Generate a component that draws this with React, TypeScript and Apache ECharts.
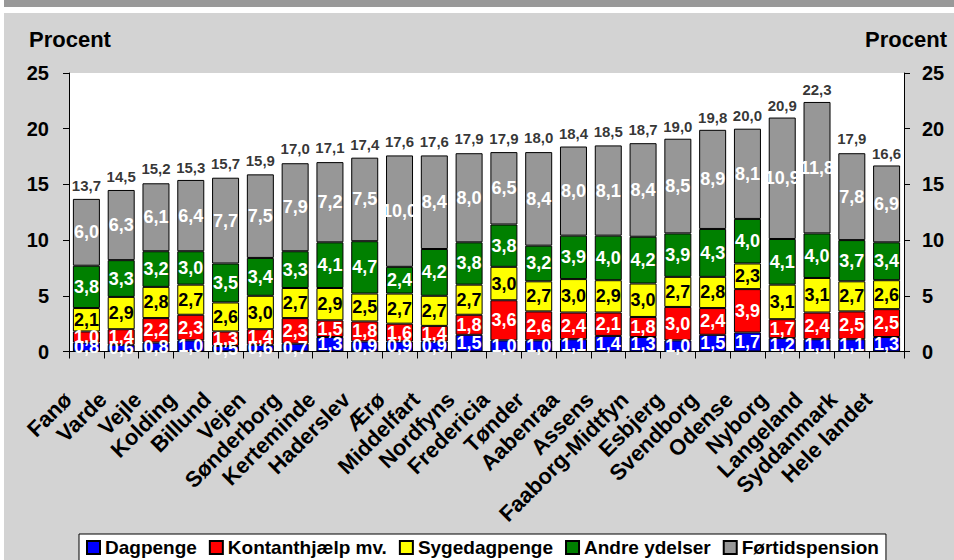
import React, { useEffect, useRef } from "react";
import * as echarts from "echarts";

const categories = [
  "Fanø", "Varde", "Vejle", "Kolding", "Billund", "Vejen", "Sønderborg", "Kerteminde",
  "Haderslev", "Ærø", "Middelfart", "Nordfyns", "Fredericia", "Tønder", "Aabenraa", "Assens",
  "Faaborg-Midtfyn", "Esbjerg", "Svendborg", "Odense", "Nyborg", "Langeland", "Syddanmark", "Hele landet",
];
const dagpenge = [0.8, 0.6, 0.8, 1.0, 0.5, 0.6, 0.7, 1.3, 0.9, 0.9, 0.9, 1.5, 1.0, 1.0, 1.1, 1.4, 1.3, 1.0, 1.5, 1.7, 1.2, 1.1, 1.1, 1.3];
const kontanthjaelp = [1.0, 1.4, 2.2, 2.3, 1.3, 1.4, 2.3, 1.5, 1.8, 1.6, 1.4, 1.8, 3.6, 2.6, 2.4, 2.1, 1.8, 3.0, 2.4, 3.9, 1.7, 2.4, 2.5, 2.5];
const sygedagpenge = [2.1, 2.9, 2.8, 2.7, 2.6, 3.0, 2.7, 2.9, 2.5, 2.7, 2.7, 2.7, 3.0, 2.7, 3.0, 2.9, 3.0, 2.7, 2.8, 2.3, 3.1, 3.1, 2.7, 2.6];
const andreYdelser = [3.8, 3.3, 3.2, 3.0, 3.5, 3.4, 3.3, 4.1, 4.7, 2.4, 4.2, 3.8, 3.8, 3.2, 3.9, 4.0, 4.2, 3.9, 4.3, 4.0, 4.1, 4.0, 3.7, 3.4];
const foertidspension = [6.0, 6.3, 6.1, 6.4, 7.7, 7.5, 7.9, 7.2, 7.5, 10.0, 8.4, 8.0, 6.5, 8.4, 8.0, 8.1, 8.4, 8.5, 8.9, 8.1, 10.9, 11.8, 7.8, 6.9];
const totals = [13.7, 14.5, 15.2, 15.3, 15.7, 15.9, 17.0, 17.1, 17.4, 17.6, 17.6, 17.9, 17.9, 18.0, 18.4, 18.5, 18.7, 19.0, 19.8, 20.0, 20.9, 22.3, 17.9, 16.6];
const seriesNames = ["Dagpenge", "Kontanthjælp mv.", "Sygedagpenge", "Andre ydelser", "Førtidspension"];
const seriesColors = ["#0000FF", "#FF0000", "#FFFF00", "#008000", "#979797"];
const labelColors = ["#FFFFFF", "#FFFFFF", "#000000", "#FFFFFF", "#FFFFFF"];
const axisTitle = "Procent";

const FONT = "Arial, 'Liberation Sans', sans-serif";
const fmt = (v: number) => v.toFixed(1).replace(".", ",");

export default function App() {
  const ref = useRef<HTMLDivElement>(null);
  useEffect(() => {
    if (!ref.current) return;
    const chart = echarts.init(ref.current, undefined, { renderer: "svg" });
    const values = [dagpenge, kontanthjaelp, sygedagpenge, andreYdelser, foertidspension];
    const barSeries = values.map((data, i) => ({
      name: seriesNames[i],
      type: "bar",
      stack: "total",
      data,
      barWidth: 27,
      yAxisIndex: 0,
      itemStyle: { color: seriesColors[i], borderColor: "#000", borderWidth: 1 },
      label: {
        show: true,
        position: "inside",
        formatter: (p: any) => fmt(p.value),
        color: labelColors[i],
        fontFamily: FONT,
        fontWeight: "bold",
        fontSize: 18,
        textBorderWidth: 0,
      },
    }));
    const yAxisCommon = {
      type: "value",
      min: 0,
      max: 25,
      interval: 5,
      splitLine: { show: false },
      axisLine: { show: true, lineStyle: { color: "#000", width: 1 } },
      axisTick: { show: true, length: 6, lineStyle: { color: "#000" } },
    };
    chart.setOption({
      animation: false,
      backgroundColor: "#d3d3d3",
      grid: {
        left: 69,
        right: 50,
        top: 73,
        height: 278.5,
        show: true,
        backgroundColor: "#ffffff",
        borderWidth: 0,
      },
      legend: {
        data: seriesNames,
        left: 79,
        top: 534,
        padding: [4, 7, 8, 7],
        backgroundColor: "#ffffff",
        borderColor: "#000",
        borderWidth: 1,
        itemGap: 12,
        itemWidth: 13,
        itemHeight: 13,
        icon: "rect",
        textStyle: { fontFamily: FONT, fontWeight: "bold", fontSize: 19, color: "#000" },
      },
      xAxis: {
        type: "category",
        data: categories,
        boundaryGap: true,
        axisLine: { show: true, lineStyle: { color: "#000" } },
        axisTick: { show: true, length: 7, alignWithLabel: false, lineStyle: { color: "#000" } },
        axisLabel: {
          interval: 0,
          rotate: 45,
          margin: 26,
          padding: [0, 26, 0, 0],
          fontFamily: FONT,
          fontWeight: "bold",
          fontSize: 22,
          color: "#000",
        },
      },
      yAxis: [
        {
          ...yAxisCommon,
          position: "left",
          axisLabel: { margin: 20, fontFamily: FONT, fontWeight: "bold", fontSize: 20, color: "#000" },
        },
        {
          ...yAxisCommon,
          position: "right",
          axisLabel: { margin: 18, fontFamily: FONT, fontWeight: "bold", fontSize: 20, color: "#000" },
        },
      ],
      graphic: [
        { type: "rect", shape: { x: 0, y: 0, width: 954, height: 13 }, style: { fill: "#ffffff" }, silent: true },
        { type: "rect", shape: { x: 0, y: 0, width: 4, height: 560 }, style: { fill: "#ffffff" }, silent: true },
        { type: "rect", shape: { x: 4, y: 0, width: 950, height: 7 }, style: { fill: "#999999" }, silent: true },
        {
          type: "text",
          left: 29,
          top: 28,
          style: { text: axisTitle, fontFamily: FONT, fontWeight: "bold", fontSize: 22, fill: "#000" },
        },
        {
          type: "text",
          right: 7,
          top: 28,
          style: { text: axisTitle, fontFamily: FONT, fontWeight: "bold", fontSize: 22, fill: "#000" },
        },
      ],
      series: [
        ...barSeries,
        {
          name: "Total",
          type: "scatter",
          data: totals,
          yAxisIndex: 0,
          symbolSize: 0,
          silent: true,
          label: {
            show: true,
            position: "top",
            distance: 6,
            formatter: (p: any) => fmt(p.value),
            color: "#000",
            fontFamily: FONT,
            fontWeight: "bold",
            fontSize: 15,
          },
        },
      ],
    });
    return () => chart.dispose();
  }, []);
  return <div ref={ref} style={{ position: "fixed", left: 0, top: 0, width: 954, height: 560 }} />;
}
